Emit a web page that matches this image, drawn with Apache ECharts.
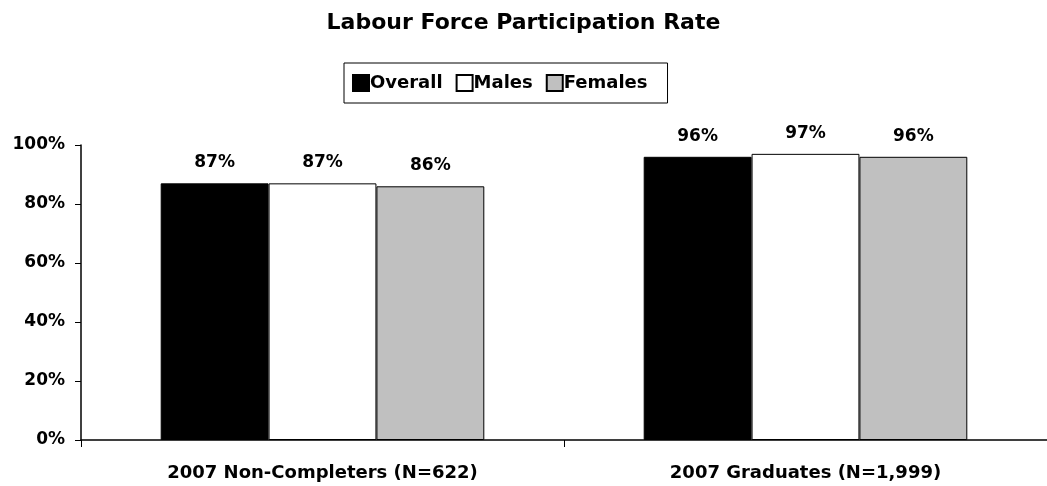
<!DOCTYPE html>
<html>
<head>
<meta charset="utf-8">
<script src="https://cdn.jsdelivr.net/npm/echarts@6/dist/echarts.min.js"></script>
<style>html,body{margin:0;padding:0;background:#fff;}#c{width:1047px;height:486px;}</style>
</head>
<body>
<div id="c"></div>
<script>
const categories = ['2007 Non-Completers (N=622)', '2007 Graduates (N=1,999)'];
const overall = [87, 96];
const males = [87, 97];
const females = [86, 96];
const yTicks = [0, 20, 40, 60, 80, 100];

const chart = echarts.init(document.getElementById('c'));
const font = 'DejaVu Sans, Verdana, sans-serif';
const labelCfg = {
  show: true, position: 'top', distance: 12,
  formatter: p => p.value + '%',
  fontFamily: font, fontWeight: 'bold', fontSize: 17, color: '#000'
};
function mk(name, data, color) {
  return {
    name, type: 'bar', data, barGap: '0%', barCategoryGap: '33%',
    itemStyle: { color, borderColor: '#000', borderWidth: 1 },
    label: labelCfg
  };
}
chart.setOption({
  animation: false,
  backgroundColor: '#fff',
  title: {
    text: 'Labour Force Participation Rate', left: 'center', top: 7,
    textStyle: { fontFamily: font, fontWeight: 'bold', fontSize: 22, color: '#000' }
  },
  legend: {
    top: 63, left: 344, icon: 'rect', itemWidth: 16, itemHeight: 16, itemGap: 13,
    borderColor: '#000', borderWidth: 1, padding: [11, 20, 11, 8],
    textStyle: { fontFamily: font, fontWeight: 'bold', fontSize: 18, color: '#000', padding: [0, 0, 0, -4] },
    data: ['Overall', 'Males', 'Females']
  },
  grid: { left: 81, top: 145, width: 970, height: 295 },
  xAxis: {
    type: 'category', data: categories,
    axisLine: { lineStyle: { color: '#000', width: 1.5 } },
    axisTick: { show: true, length: 7, lineStyle: { color: '#000' } },
    axisLabel: { margin: 24, fontFamily: font, fontWeight: 'bold', fontSize: 18, color: '#000' }
  },
  yAxis: {
    type: 'value', min: yTicks[0], max: yTicks[yTicks.length - 1], interval: 20,
    axisLine: { show: true, lineStyle: { color: '#000', width: 1.5 } },
    axisTick: { show: true, length: 6, lineStyle: { color: '#000' } },
    splitLine: { show: false },
    axisLabel: { margin: 16, formatter: v => v + '%', fontFamily: font, fontWeight: 'bold', fontSize: 17, color: '#000' }
  },
  series: [
    mk('Overall', overall, '#000000'),
    mk('Males', males, '#ffffff'),
    mk('Females', females, '#c0c0c0')
  ]
});
</script>
</body>
</html>
